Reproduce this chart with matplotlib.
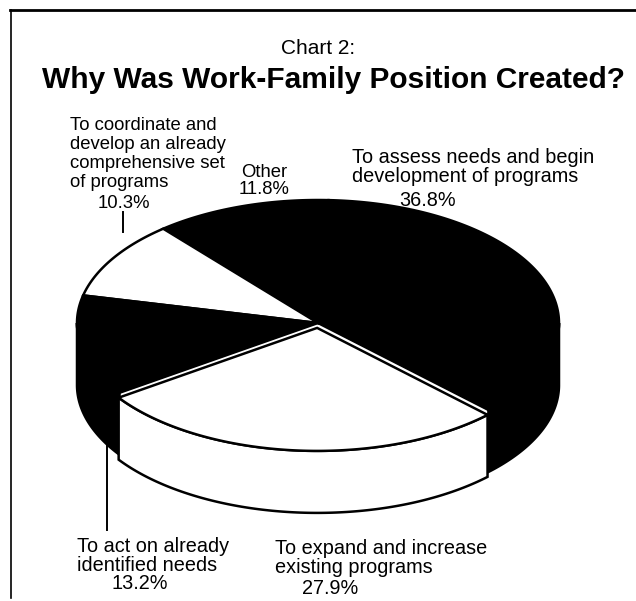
import numpy as np
import matplotlib
matplotlib.use("Agg")
import matplotlib.pyplot as plt
from matplotlib.patches import Polygon

# ---- data ----
categories = ["To assess needs and begin\ndevelopment of programs",
              "Other",
              "To coordinate and\ndevelop an already\ncomprehensive set\nof programs",
              "To act on already\nidentified needs",
              "To expand and increase\nexisting programs"]
values = [36.8, 11.8, 10.3, 13.2, 27.9]
pct_labels = ["36.8%", "11.8%", "10.3%", "13.2%", "27.9%"]
colors = ["black", "black", "white", "black", "white"]
explode = [0, 0, 0, 0, 0.04]

W, H = 636, 601
fig = plt.figure(figsize=(W / 100, H / 100), dpi=100)
ax = fig.add_axes([0, 0, 1, 1])
ax.set_xlim(0, W)
ax.set_ylim(H, 0)
ax.axis("off")

FONT = "Liberation Sans"

# pie geometry (pixel units)
cx, cy, a, b, depth = 318, 323, 241, 123, 62
start = -45.0

def pt(theta, dx=0, dy=0, down=0):
    t = np.radians(theta)
    return (cx + dx + a * np.cos(t), cy + dy - b * np.sin(t) + down)

total = sum(values)
angles = []
th = start
for v in values:
    angles.append((th, th + 360 * v / total))
    th += 360 * v / total

def draw_slice(i, z):
    t1, t2 = angles[i]
    mid = np.radians((t1 + t2) / 2)
    dx = explode[i] * a * np.cos(mid)
    dy = -explode[i] * b * np.sin(mid)
    segs = []
    for k in range(-1, 2):
        lo = max(t1, 180 + 360 * k)
        hi = min(t2, 360 + 360 * k)
        if hi > lo:
            segs.append((lo, hi))
    for lo, hi in segs:
        ts = np.linspace(lo, hi, 120)
        top = [pt(t, dx, dy) for t in ts]
        bot = [pt(t, dx, dy, depth) for t in ts[::-1]]
        ax.add_patch(Polygon(top + bot, closed=True, facecolor=colors[i],
                             edgecolor="black", lw=1.8, zorder=z))
    ts = np.linspace(t1, t2, 200)
    poly = [(cx + dx, cy + dy)] + [pt(t, dx, dy) for t in ts]
    ax.add_patch(Polygon(poly, closed=True, facecolor=colors[i],
                         edgecolor="black", lw=1.8, zorder=z + 1))

order = [i for i in range(len(values)) if explode[i] == 0] + \
        [i for i in range(len(values)) if explode[i] != 0]
for n, i in enumerate(order):
    draw_slice(i, 2 + 2 * n)

# frame (scanned box edges)
ax.plot([10, W], [10, 10], color="black", lw=2.0, zorder=20)
ax.plot([11, 11], [10, 598], color="black", lw=1.2, zorder=20)

# titles
ax.text(318, 48, "Chart 2:", fontsize=15, family=FONT, ha="center", va="center")
ax.text(334, 80, "Why Was Work-Family Position Created?", fontsize=21.5,
        family=FONT, weight="bold", ha="center", va="center")

step = 19.0

def block(x, y0, text, ha="left", fs=14.3):
    for k, line in enumerate(text.split("\n")):
        ax.text(x, y0 + k * step, line, fontsize=fs, family=FONT,
                ha=ha, va="baseline", zorder=25)

# coordinate
block(70, 130, categories[2], fs=13.3)
block(124, 208, pct_labels[2], ha="center", fs=13.3)
ax.plot([123, 123], [212, 232], color="black", lw=1.4, zorder=20)
# other
block(264, 177, categories[1], ha="center", fs=13.3)
block(264, 194, pct_labels[1], ha="center", fs=13.3)
# assess
block(352, 163, categories[0])
block(428, 206, pct_labels[0], ha="center")
# act
ax.plot([107, 107], [446, 530], color="black", lw=1.4, zorder=20)
block(77, 552, categories[3])
block(140, 589, pct_labels[3], ha="center")
# expand
block(275, 554, categories[4])
block(330, 594, pct_labels[4], ha="center")

fig.savefig("out.png", dpi=100)
